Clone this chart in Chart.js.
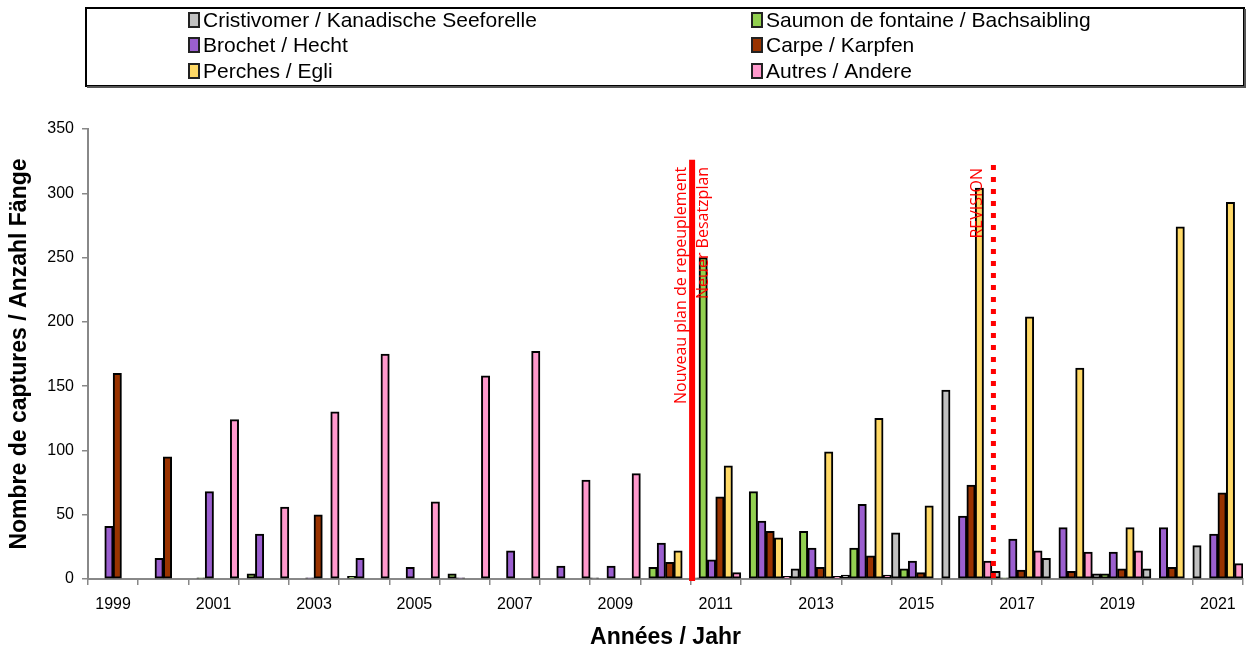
<!DOCTYPE html>
<html>
<head>
<meta charset="utf-8">
<script src="https://cdn.jsdelivr.net/npm/chart.js@4/dist/chart.umd.min.js"></script>
<style>
html,body{margin:0;padding:0;background:#fff;}
#wrap{position:relative;width:1255px;height:653px;}
</style>
</head>
<body>
<div id="wrap"><canvas id="c" width="1255" height="653"></canvas></div>
<script>
const years = ['1999','2000','2001','2002','2003','2004','2005','2006','2007','2008','2009','2010','2011','2012','2013','2014','2015','2016','2017','2018','2019','2020','2021'];
const cristivomer = [0,0,0,0,0,0,0,0,0,0,1,0,1,0,8,3,36,147,6,16,4,8,26];
const saumon      = [0,0,1,4,0,2,0,4,0,0,0,9,250,68,37,24,8,0,1,0,4,0,0];
const brochet     = [41,16,68,35,1,16,9,1,22,10,10,28,15,45,24,58,14,49,31,40,21,40,35];
const carpe       = [160,95,0,0,50,0,0,0,0,0,0,13,64,37,9,18,5,73,7,6,8,9,67];
const perches     = [0,0,0,0,0,0,0,0,0,0,0,22,88,32,99,125,57,304,204,164,40,274,293];
const autres      = [0,0,124,56,130,175,60,158,177,77,82,0,5,2,2,3,0,14,22,21,22,0,12];
const seriesNames = ['Cristivomer / Kanadische Seeforelle','Saumon de fontaine / Bachsaibling','Brochet / Hecht','Carpe / Karpfen','Perches / Egli','Autres / Andere'];
const seriesColors = ['#C0C0C0','#92D050','#9B5FCF','#993300','#FFD966','#FF99CC'];
const yTicks = [0,50,100,150,200,250,300,350];
const markers = [
  {afterIndex: 11, style: 'solid', top: 326, labels: ['Nouveau plan de repeuplement','Neuer Besatzplan']},
  {afterIndex: 17, style: 'dotted', top: 322, labels: ['REVISION']}
];

const FONT = '"Liberation Sans", Arial, sans-serif';
const allData = [cristivomer, saumon, brochet, carpe, perches, autres];

const legendPlugin = {
  id: 'boxLegend',
  afterDraw(chart) {
    const ctx = chart.ctx;
    ctx.save();
    ctx.strokeStyle = '#000';
    ctx.lineWidth = 2;
    ctx.strokeRect(86, 8, 1158, 78);
    ctx.fillStyle = '#555';
    ctx.fillRect(87, 86, 1158, 2);
    ctx.fillRect(1244, 9, 2, 79);
    ctx.font = '21px ' + FONT;
    ctx.textBaseline = 'middle';
    const cols = [189, 752];
    const rows = [20, 45, 71];
    seriesNames.forEach((name, i) => {
      const x = cols[i % 2], y = rows[Math.floor(i / 2)];
      ctx.fillStyle = seriesColors[i];
      ctx.fillRect(x, y - 7, 10, 14);
      ctx.strokeStyle = '#222';
      ctx.lineWidth = 2;
      ctx.strokeRect(x, y - 7, 10, 14);
      ctx.fillStyle = '#000';
      ctx.fillText(name, x + 14, y + 1);
    });
    ctx.restore();
  }
};

const markerPlugin = {
  id: 'markers',
  afterDatasetsDraw(chart) {
    const ctx = chart.ctx;
    const xs = chart.scales.x, ys = chart.scales.y;
    ctx.save();
    markers.forEach(m => {
      const x = (xs.getPixelForValue(m.afterIndex) + xs.getPixelForValue(m.afterIndex + 1)) / 2 + 1.5;
      const yTop = ys.getPixelForValue(m.top);
      const yBot = ys.getPixelForValue(0);
      ctx.strokeStyle = '#FF0000';
      ctx.lineCap = 'butt';
      if (m.style === 'solid') {
        ctx.lineWidth = 6;
        ctx.setLineDash([]);
      } else {
        ctx.lineWidth = 5;
        ctx.setLineDash([5, 7]);
      }
      ctx.beginPath();
      ctx.moveTo(x, yTop);
      ctx.lineTo(x, yBot + 2);
      ctx.stroke();
      ctx.setLineDash([]);
      ctx.fillStyle = '#FF0000';
      ctx.textAlign = 'right';
      ctx.textBaseline = 'middle';
      if (m.style === 'solid') {
        ctx.font = '16px "Open Sans", sans-serif';
        const offs = [-11, 11];
        m.labels.forEach((t, i) => {
          ctx.save();
          ctx.translate(x + offs[i], yTop + 7);
          ctx.rotate(-Math.PI / 2);
          ctx.fillText(t, 0, 0);
          ctx.restore();
        });
      } else {
        ctx.font = '16px "Open Sans", sans-serif';
        ctx.save();
        ctx.translate(x - 16, yTop + 3);
        ctx.rotate(-Math.PI / 2);
        ctx.fillText(m.labels[0], 0, 0);
        ctx.restore();
      }
    });
    ctx.restore();
  }
};

new Chart(document.getElementById('c'), {
  type: 'bar',
  data: {
    labels: years,
    datasets: seriesNames.map((n, i) => ({
      label: n,
      data: allData[i],
      backgroundColor: seriesColors[i],
      borderColor: '#000',
      borderWidth: 2,
      borderSkipped: false,
      categoryPercentage: 1.0,
      barPercentage: 1.0
    }))
  },
  options: {
    responsive: false,
    animation: false,
    devicePixelRatio: 1,
    layout: {padding: {top: 129, right: 12, bottom: 0, left: 0}},
    plugins: {legend: {display: false}, tooltip: {enabled: false}},
    scales: {
      x: {
        grid: {display: true, drawOnChartArea: false, drawTicks: true, tickLength: 6, color: '#888', offset: true, lineWidth: 1.5},
        border: {color: '#888', width: 2},
        ticks: {autoSkip: false, maxRotation: 0, minRotation: 0, color: '#000', padding: 10,
          font: {size: 16, family: FONT},
          callback: (v, i) => (i % 2 === 0 ? years[i] : '')},
        title: {display: true, text: 'Années / Jahr', color: '#000', font: {size: 23, weight: 'bold', family: FONT}, padding: {top: 0, bottom: 2}},
        afterFit: s => { s.height = 74; }
      },
      y: {
        min: 0, max: 350,
        afterBuildTicks: s => { s.ticks = yTicks.map(v => ({value: v})); },
        grid: {display: true, drawOnChartArea: false, drawTicks: true, tickLength: 6, color: '#888', lineWidth: 1.5},
        border: {color: '#888', width: 2},
        ticks: {color: '#000', padding: 8, font: {size: 16, family: FONT}},
        title: {display: true, text: 'Nombre de captures / Anzahl Fänge', color: '#000', font: {size: 23, weight: 'bold', family: FONT}, padding: {top: 6, bottom: 0}},
        afterFit: s => { s.width = 88; }
      }
    }
  },
  plugins: [legendPlugin, markerPlugin]
});
</script>
</body>
</html>
